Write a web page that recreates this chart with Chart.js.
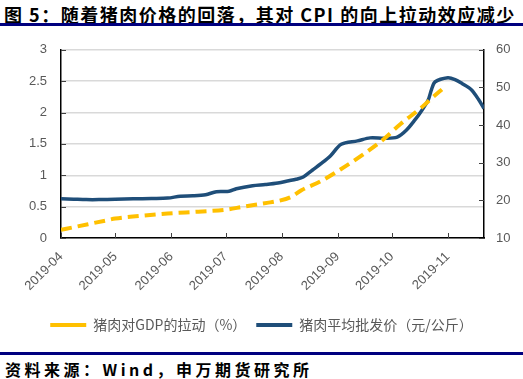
<!DOCTYPE html>
<html>
<head>
<meta charset="utf-8">
<script src="https://cdn.jsdelivr.net/npm/chart.js@4/dist/chart.umd.min.js"></script>
<style>
  body { margin: 0; width: 523px; height: 379px; background: #fff; position: relative; overflow: hidden; }
  .title { position: absolute; left: 4px; top: 1px; font: bold 18px "Noto Sans CJK SC", sans-serif; letter-spacing: 1.5px; color: #000; white-space: nowrap; }
  .rule { position: absolute; left: 0; width: 523px; height: 3px; background: #00007f; }
  .source { position: absolute; left: 5px; top: 357px; font: bold 16px "Noto Sans CJK SC", sans-serif; letter-spacing: 3.5px; color: #000; white-space: nowrap; }
  #wrap { position: absolute; left: 0; top: 28px; width: 523px; height: 322px; }
</style>
</head>
<body>
<div class="title">图 5：随着猪肉价格的回落，其对 CPI 的向上拉动效应减少</div>
<div class="rule" style="top:23px"></div>
<div id="wrap"><canvas id="pigChart"></canvas></div>
<div class="rule" style="top:352px"></div>
<div class="source">资料来源：Wind，申万期货研究所</div>
<script>
// month labels on the x axis
const monthLabels = ['2019-04', '2019-05', '2019-06', '2019-07', '2019-08', '2019-09', '2019-10', '2019-11'];

// pork contribution to GDP (%), left axis
const pullDates = ['2019-04-01', '2019-04-16', '2019-04-26', '2019-05-01', '2019-05-14', '2019-05-30',
    '2019-06-16', '2019-07-01', '2019-07-11', '2019-07-24', '2019-07-30', '2019-08-06', '2019-08-12',
    '2019-08-23', '2019-09-03', '2019-09-14', '2019-09-25', '2019-10-06', '2019-10-17', '2019-10-22', '2019-10-30'];
const pullValues = [0.13, 0.22, 0.28, 0.31, 0.35, 0.39,
    0.42, 0.45, 0.50, 0.56, 0.59, 0.65, 0.76,
    0.91, 1.10, 1.31, 1.54, 1.82, 2.07, 2.20, 2.40];

// pork average wholesale price (yuan/kg), right axis
const priceDates = ['2019-04-01', '2019-04-08', '2019-04-15', '2019-04-22', '2019-05-01', '2019-05-11',
    '2019-05-21', '2019-05-30', '2019-06-06', '2019-06-13', '2019-06-20', '2019-06-26', '2019-07-03',
    '2019-07-07', '2019-07-16', '2019-07-23', '2019-07-30', '2019-08-05', '2019-08-09', '2019-08-13',
    '2019-08-18', '2019-08-23', '2019-08-28', '2019-09-03', '2019-09-12', '2019-09-19', '2019-09-27', '2019-10-04',
    '2019-10-09', '2019-10-14', '2019-10-17', '2019-10-21', '2019-10-23', '2019-10-25', '2019-11-01',
    '2019-11-05', '2019-11-09', '2019-11-14', '2019-11-18', '2019-11-21'];
const priceValues = [20.4, 20.3, 20.2, 20.2, 20.3, 20.4,
    20.5, 20.6, 21.1, 21.2, 21.5, 22.3, 22.4,
    23.1, 23.9, 24.2, 24.6, 25.2, 25.6, 26.2,
    28.0, 29.8, 31.8, 34.9, 35.8, 36.6, 36.5, 36.8,
    38.6, 41.5, 43.5, 46.5, 49.5, 51.5, 52.6,
    52.1, 51.0, 49.4, 46.8, 44.4];

const dayOf = s => (Date.parse(s) - Date.parse('2019-04-01')) / 86400000;
const monthDays = monthLabels.map(m => dayOf(m + '-01'));
const lastDay = dayOf('2019-11-21');

const pullPoints = pullDates.map((d, i) => ({ x: dayOf(d), y: pullValues[i] }));
const pricePoints = priceDates.map((d, i) => ({ x: dayOf(d), y: priceValues[i] }));

const axisFont = { family: '"Liberation Sans", Arial, sans-serif', size: 13 };
const grey = '#595959';

// short tick marks pointing into the plot, like the Excel original
const innerTicks = {
    id: 'innerTicks',
    afterDatasetsDraw(chart) {
        const { ctx, chartArea: a, scales } = chart;
        ctx.save();
        ctx.strokeStyle = '#404040';
        ctx.lineWidth = 1;
        ctx.beginPath();
        scales.y.ticks.forEach(t => {
            const p = Math.round(scales.y.getPixelForValue(t.value)) + 0.5;
            ctx.moveTo(a.left, p); ctx.lineTo(a.left + 5, p);
        });
        scales.y1.ticks.forEach(t => {
            const p = Math.round(scales.y1.getPixelForValue(t.value)) + 0.5;
            ctx.moveTo(a.right, p); ctx.lineTo(a.right - 5, p);
        });
        scales.x.ticks.forEach(t => {
            const p = Math.round(scales.x.getPixelForValue(t.value)) + 0.5;
            ctx.moveTo(p, a.bottom); ctx.lineTo(p, a.bottom - 5);
        });
        ctx.stroke();
        ctx.restore();
    }
};

new Chart(document.getElementById('pigChart'), {
    type: 'line',
    data: {
        datasets: [{
            label: '猪肉对GDP的拉动（%）',
            data: pullPoints,
            yAxisID: 'y',
            borderColor: '#ffc000',
            backgroundColor: '#ffc000',
            borderWidth: 4,
            borderDash: [11, 6],
            pointRadius: 0,
            tension: 0.4,
            cubicInterpolationMode: 'monotone'
        }, {
            label: '猪肉平均批发价（元/公斤）',
            data: pricePoints,
            yAxisID: 'y1',
            borderColor: '#1f4e79',
            backgroundColor: '#1f4e79',
            borderWidth: 3.5,
            pointRadius: 0,
            tension: 0.3
        }]
    },
    options: {
        responsive: true,
        maintainAspectRatio: false,
        animation: false,
        layout: { padding: { top: 19, bottom: 8, left: 0, right: 0 } },
        scales: {
            x: {
                type: 'linear',
                min: 0,
                max: lastDay,
                afterBuildTicks: s => { s.ticks = monthDays.map(v => ({ value: v })); },
                afterFit: s => { s.height = 70; },
                grid: { display: false },
                border: { color: '#000', width: 1.5 },
                ticks: {
                    minRotation: 45,
                    maxRotation: 45,
                    padding: 3,
                    color: grey,
                    font: axisFont,
                    callback: (v, i) => monthLabels[i]
                }
            },
            y: {
                position: 'left',
                min: 0,
                max: 3,
                afterFit: s => { s.width = 61; },
                grid: { color: '#d9d9d9', lineWidth: 1.5, drawTicks: false },
                border: { color: '#000', width: 1.5 },
                ticks: { stepSize: 0.5, padding: 14, color: grey, font: axisFont, callback: v => String(v) }
            },
            y1: {
                position: 'right',
                min: 10,
                max: 60,
                afterFit: s => { s.width = 39; },
                grid: { display: false, drawTicks: false },
                border: { color: '#000', width: 1.5 },
                ticks: { stepSize: 10, padding: 12, color: grey, font: axisFont }
            }
        },
        plugins: {
            legend: {
                position: 'bottom',
                labels: {
                    boxWidth: 36,
                    boxHeight: 4,
                    padding: 10,
                    color: grey,
                    font: { family: '"Noto Sans CJK SC", sans-serif', size: 14 },
                    generateLabels: chart => Chart.defaults.plugins.legend.labels.generateLabels(chart)
                        .map(l => Object.assign(l, { lineDash: [], lineWidth: 0 }))
                }
            },
            tooltip: { enabled: false }
        }
    },
    plugins: [innerTicks]
});
</script>
</body>
</html>
